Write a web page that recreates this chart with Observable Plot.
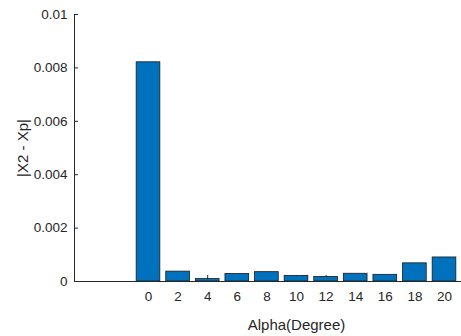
<!DOCTYPE html>
<html>
<head>
<meta charset="utf-8">
<script src="https://cdn.jsdelivr.net/npm/d3@7"></script>
<script src="https://cdn.jsdelivr.net/npm/@observablehq/plot@0.6"></script>
<style>
  html, body { margin: 0; padding: 0; background: #fff; }
  #chart svg { display: block; }
</style>
</head>
<body>
<div id="chart"></div>
<script>
const alphas = [0, 2, 4, 6, 8, 10, 12, 14, 16, 18, 20];
const diffs = [0.00821, 0.00037, 0.00009, 0.00028, 0.00035, 0.00021, 0.00017, 0.00029, 0.00025, 0.00068, 0.00090];
const xTicks = [0, 2, 4, 6, 8, 10, 12, 14, 16, 18, 20];
const yTicks = [0, 0.002, 0.004, 0.006, 0.008, 0.01];
const yTickLabels = ["0", "0.002", "0.004", "0.006", "0.008", "0.01"];
const xLim = [-5, 25];
const yLim = [0, 0.01];
const xLabel = "Alpha(Degree)";
const yLabel = "|X2 - Xp|";
const barHalf = 0.8;

const data = alphas.map((a, i) => ({a, v: diffs[i]}));
const ink = "#262626";
const font = "'Liberation Sans', Arial, Helvetica, sans-serif";

const chart = Plot.plot({
  width: 461,
  height: 336,
  marginLeft: 74,
  marginRight: 0,
  marginTop: 14,
  marginBottom: 55,
  style: {fontFamily: font, color: ink, background: "#fff"},
  x: {domain: xLim, range: [74, 74 + 14.8 * (xLim[1] - xLim[0])]},
  y: {domain: yLim},
  marks: [
    // inward ticks (drawn beneath the bars, like MATLAB's bottom layer)
    Plot.ruleX(xTicks, {x: d => d, y1: 0, y2: 0, insetTop: -6, stroke: ink, strokeWidth: 1}),
    Plot.ruleY(yTicks, {y: d => d, x1: xLim[0], x2: xLim[0], insetRight: -4, stroke: ink, strokeWidth: 1}),
    Plot.rectY(data, {
      x1: d => d.a - barHalf,
      x2: d => d.a + barHalf,
      y1: 0,
      y2: "v",
      fill: "#0072BD",
      stroke: "#1a1a1a",
      strokeWidth: 0.8
    }),
    // axis lines
    Plot.ruleY([yLim[0]], {stroke: ink, strokeWidth: 1}),
    Plot.ruleX([xLim[0]], {stroke: ink, strokeWidth: 1}),
    Plot.axisX({ticks: xTicks, tickSize: 0, tickPadding: 10, fontSize: 13.5, label: null}),
    Plot.axisY({ticks: yTicks, tickSize: 0, tickPadding: 7, fontSize: 13.5, label: null,
                tickFormat: (d) => yTickLabels[yTicks.indexOf(d)]}),
    Plot.text([xLabel], {x: (xLim[0] + xLim[1]) / 2, y: yLim[0], dy: 44, fontSize: 15, fill: ink, text: d => d}),
    Plot.text([yLabel], {x: xLim[0], y: (yLim[0] + yLim[1]) / 2, dx: -51, rotate: -90, fontSize: 15, fill: ink, text: d => d, ariaLabel: "ylabel"})
  ]
});
d3.select(chart).selectAll('g[aria-label="ylabel"] text')
  .style("word-spacing", "5px").style("letter-spacing", "0.7px");
document.getElementById("chart").appendChild(chart);
</script>
</body>
</html>
